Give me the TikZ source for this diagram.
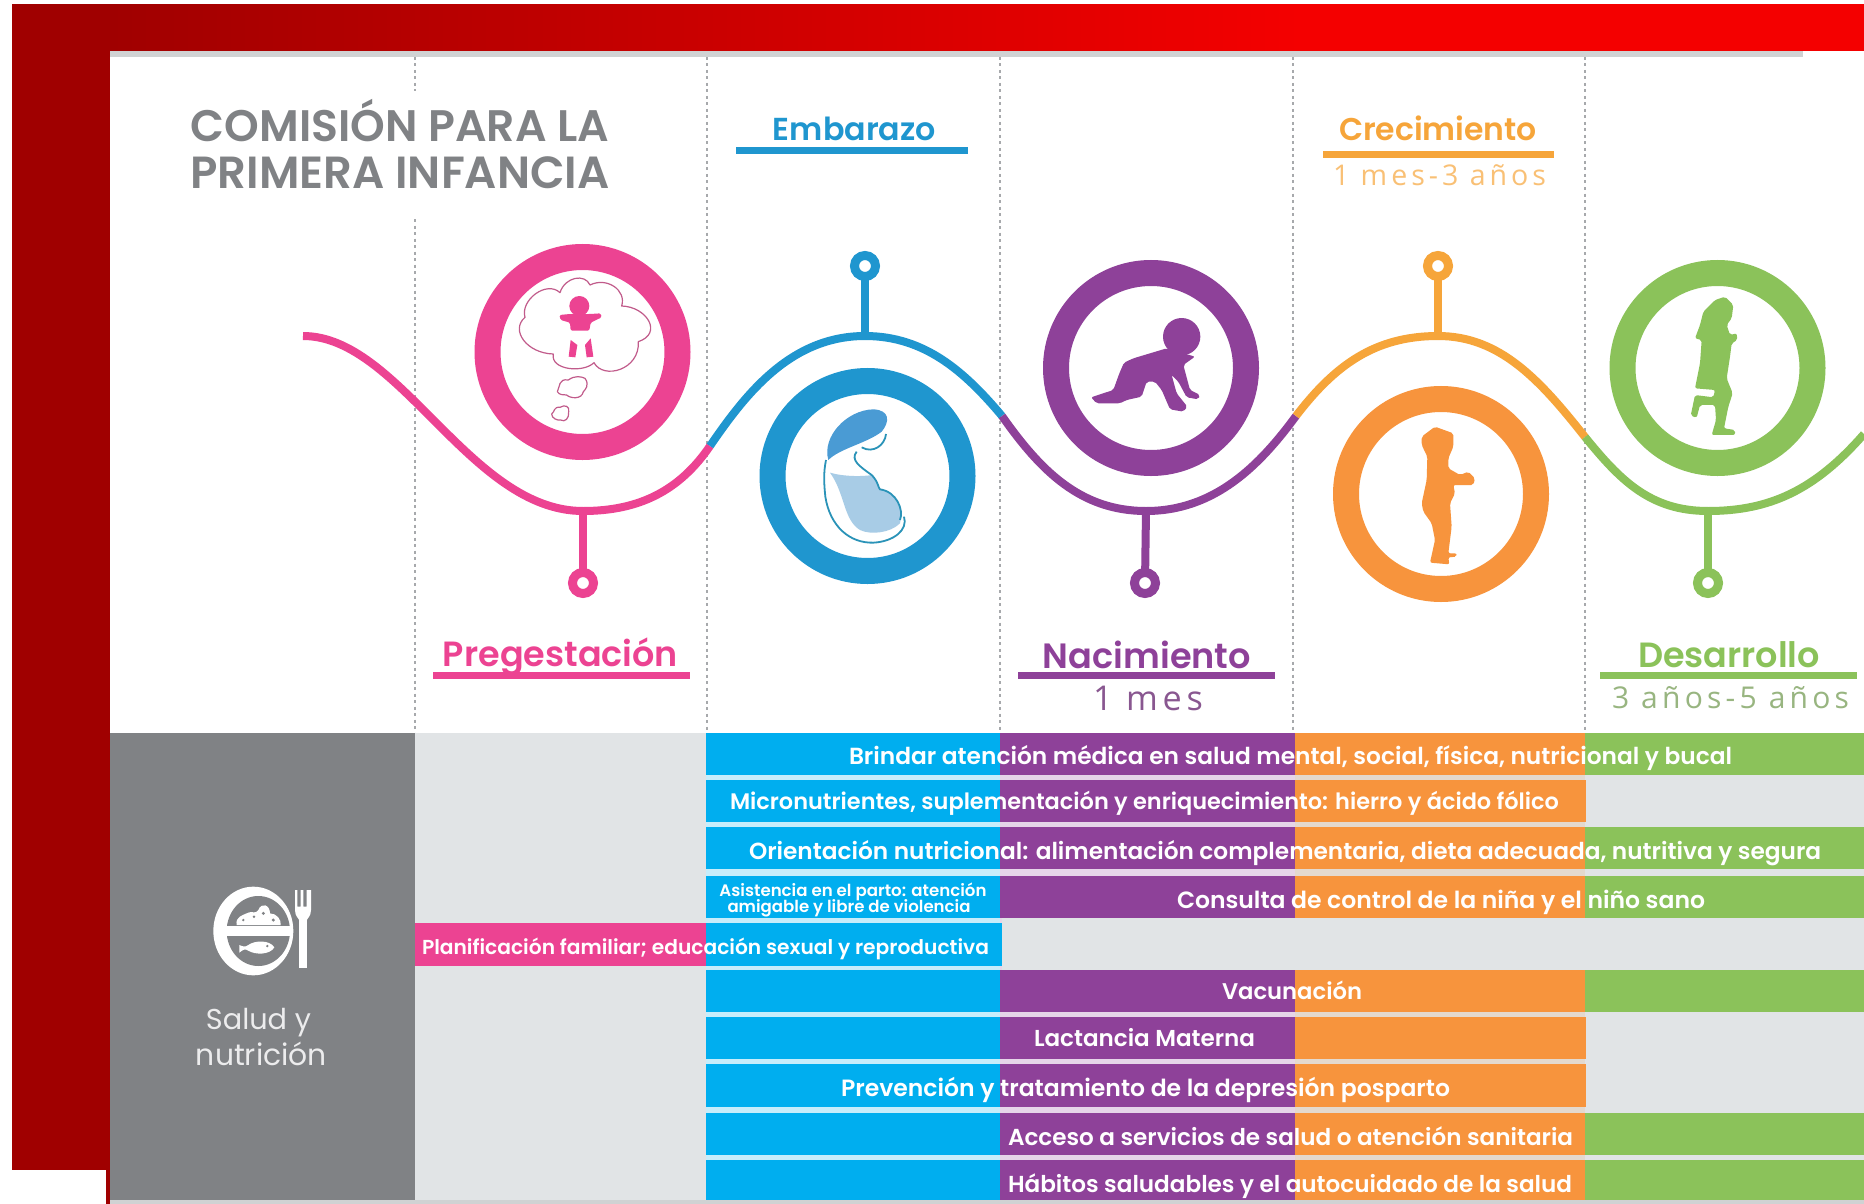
\documentclass[tikz,border=0pt]{standalone}
\usepackage{fontspec}
\setmainfont{Poppins}[BoldFont={Poppins SemiBold}]
\newfontfamily\spacedfont{Open Sans}[LetterSpace=14]
\definecolor{frameR}{HTML}{A00000}
\definecolor{frameB}{HTML}{F40000}
\definecolor{shadowG}{HTML}{D0D2D3}
\definecolor{dashG}{HTML}{A7A9AC}
\definecolor{panelG}{HTML}{808285}
\definecolor{cellG}{HTML}{E1E4E6}
\definecolor{pinkC}{HTML}{EC4392}
\definecolor{blueC}{HTML}{00AEEF}
\definecolor{blueW}{HTML}{1F96CF}
\definecolor{blueHair}{HTML}{4A9BD4}
\definecolor{blueBody}{HTML}{A8CCE6}
\definecolor{blueLine}{HTML}{2A93B8}
\definecolor{purpleC}{HTML}{8E4199}
\definecolor{orangeC}{HTML}{F7943D}
\definecolor{orangeW}{HTML}{F6A53A}
\definecolor{greenC}{HTML}{8BC25A}
\newcommand{\fitw}[2]{\resizebox{#1pt}{!}{#2}}
\tikzset{
  every node/.style={inner sep=0pt,outer sep=0pt},
  wave/.style={line width=8pt,line cap=butt},
  bigring/.style={circle,draw,fill=white,line width=26pt,minimum size=190pt},
  pinring/.style={circle,draw,fill=white,line width=9pt,minimum size=21pt},
  stem/.style={line width=8pt},
  guide/.style={draw=dashG,line width=1.2pt,dash pattern=on 3pt off 3.5pt},
  bar/.style={line width=7pt},
  rowtext/.style={text=white,font=\bfseries,anchor=west},
  zoomed/.style={x=0.33333pt,y=-0.33333pt},
}
\begin{document}
\begin{tikzpicture}[x=1pt,y=-1pt]
\useasboundingbox (0,0) rectangle (1864,1204);
\fill[white] (0,0) rectangle (1864,1204);
% frame
\fill[frameR] (12,4) rectangle (110,1170);
\fill[frameR] (106,1170) rectangle (110,1204);
\shade[left color=frameR,right color=frameB] (110,4) rectangle (1300,51);
\fill[frameB] (1300,4) rectangle (1864,51);
\fill[white] (0,0) rectangle (1864,4);
\fill[shadowG] (110,51) rectangle (1803,57);
% guides
\draw[guide] (415,57) -- (415,91);
\draw[guide] (415,219) -- (415,733);
\foreach \gx in {707,1000,1293,1585} {\draw[guide] (\gx,57) -- (\gx,733);}
% table background
\fill[panelG] (110,733) rectangle (415,1200);
\fill[cellG] (415,733) rectangle (1864,1200);
\fill[shadowG] (110,1200) rectangle (1864,1204);
\fill[blueC!22!white] (706,775) rectangle (1000,1160);
\fill[purpleC!22!white] (1000,775) rectangle (1295,1160);
\fill[orangeC!14!cellG] (1295,775) rectangle (1585,1160);
\fill[cellG] (1002,918) rectangle (1864,970);
\fill[cellG] (1585,775) rectangle (1864,1160);
% rows: pink/blue/purple/orange/green cells
\foreach \ya/\yb in {733/775,780/822,827/869,876/918,970/1012,1017/1059,1064/1107,1113/1155,1160/1200}{
  \fill[blueC] (706,\ya) rectangle (1000,\yb);
  \fill[purpleC] (1000,\ya) rectangle (1295,\yb);
  \fill[orangeC] (1295,\ya) rectangle (1586,\yb);
}
\foreach \ya/\yb in {733/775,827/869,876/918,970/1012,1113/1155,1160/1200}{
  \fill[greenC] (1585,\ya) rectangle (1864,\yb);
}
\fill[pinkC] (415,923) rectangle (706,966);
\fill[blueC] (706,923) rectangle (1002,966);
% row texts
\node[rowtext] (r1) at (849,758) {\fitw{883}{Brindar atención médica en salud mental, social, física, nutricional y bucal}};
\node[rowtext] (r2) at (730,803) {\fitw{829}{Micronutrientes, suplementación y enriquecimiento: hierro y ácido fólico}};
\node[rowtext] (r3) at (749,853) {\fitw{1072}{Orientación nutricional: alimentación complementaria, dieta adecuada, nutritiva y segura}};
\node[rowtext,anchor=center] (r4a) at (853,892) {\fitw{267}{Asistencia en el parto: atención}};
\node[rowtext,anchor=center] (r4b) at (849,908) {\fitw{243}{amigable y libre de violencia}};
\node[rowtext] (r4) at (1177,902) {\fitw{528}{Consulta de control de la niña y el niño sano}};
\node[rowtext] (r5) at (422,949) {\fitw{567}{Planificación familiar; educación sexual y reproductiva}};
\node[rowtext] (r6) at (1222,990) {\fitw{140}{Vacunación}};
\node[rowtext] (r7) at (1034,1038) {\fitw{221}{Lactancia Materna}};
\node[rowtext] (r8) at (841,1090) {\fitw{609}{Prevención y tratamiento de la depresión posparto}};
\node[rowtext] (r9) at (1008,1136) {\fitw{565}{Acceso a servicios de salud o atención sanitaria}};
\node[rowtext] (r10) at (1008,1186) {\fitw{564}{Hábitos saludables y el autocuidado de la salud}};
% panel
\node[text=white!85!panelG] (salud) at (258.5,1023) {\fitw{105}{Salud y}};
\node[text=white!85!panelG] (nutri) at (261.5,1054) {\fitw{131}{nutrición}};
% plate icon
\begin{scope}[shift={(180,860)},zoomed]
  \fill[white] (220,213) ellipse [x radius=120,y radius=133];
  \fill[panelG] (235,213) ellipse [x radius=95,y radius=105];
  \fill[white] (125,198) rectangle (335,228);
  \fill[white] (170,195) .. controls (165,170) and (190,165) .. (200,160) .. controls (220,150) and (225,165) .. (235,150) .. controls (245,125) and (270,135) .. (270,160) .. controls (290,160) and (305,180) .. (302,195) -- cycle;
  \fill[panelG] (190,180) circle (4) (222,170) circle (4) (250,160) circle (5) (280,180) circle (5);
  \fill[white] (178,255) .. controls (190,260) and (195,262) .. (205,255) .. controls (225,240) and (270,240) .. (283,262) .. controls (270,285) and (225,285) .. (205,272) .. controls (195,266) and (190,268) .. (178,278) -- cycle;
  \fill[panelG] (262,258) circle (4);
  \fill[white] (357,170) rectangle (381,325);
  \fill[white] (345,90) -- (352,90) -- (352,140) -- (362,140) -- (362,90) -- (370,90) -- (370,140) -- (380,140) -- (380,90) -- (393,90) -- (393,150) .. controls (393,170) and (381,175) .. (381,180) -- (357,180) .. controls (357,175) and (345,170) .. (345,150) -- cycle;
\end{scope}
% headings
\node[text=panelG,font=\bfseries] (title1) at (400,121) {\fitw{418}{COMISIÓN PARA LA}};
\node[text=panelG,font=\bfseries] (title2) at (400,173) {\fitw{419}{PRIMERA INFANCIA}};
\node[text=blueW] (hemb) at (854.5,129) {\fitw{163}{\textbf{Embarazo}}};
\draw[blueW,bar] (736,151) -- (968,151);
\node[text=orangeW] (hcre) at (1438,128) {\fitw{198}{\textbf{Crecimiento}}};
\draw[orangeW,bar] (1323,155) -- (1554,155);
\node[text=orangeW!70!white] (scre) at (1439.5,175) {\fitw{213}{\spacedfont 1 mes-3 años}};
\node[text=pinkC] (hpre) at (560.5,656.5) {\fitw{235}{\textbf{Pregestación}}};
\draw[pinkC,bar] (433,675) -- (690,675);
\node[text=purpleC] (hnac) at (1147,655) {\fitw{208}{\textbf{Nacimiento}}};
\draw[purpleC,bar] (1018,675) -- (1275,675);
\node[text=purpleC!65!gray] (snac) at (1148,698) {\fitw{110}{\spacedfont 1 mes}};
\node[text=greenC] (hdes) at (1729,655) {\fitw{182}{\textbf{Desarrollo}}};
\draw[greenC,bar] (1600,675) -- (1857,675);
\node[text=greenC!60!gray!85!white] (sdes) at (1730.5,698) {\fitw{237}{\spacedfont 3 años-5 años}};
% wave coordinates
\coordinate (w0) at (303,336);
\coordinate (tPink) at (583,511);
\coordinate (j1) at (710,446);
\coordinate (pBlue) at (865,336);
\coordinate (j2) at (1002,416);
\coordinate (tPurple) at (1146,511);
\coordinate (j3) at (1296,416);
\coordinate (pOrange) at (1438,336);
\coordinate (j4) at (1585,437);
\coordinate (tGreen) at (1708,511);
\coordinate (w9) at (1864,434);
% pins
\node[pinring,draw=pinkC] (pinA) at (583,583) {};
\node[pinring,draw=blueW] (pinB) at (865,266) {};
\node[pinring,draw=purpleC] (pinC) at (1145,583) {};
\node[pinring,draw=orangeW] (pinD) at (1438,266) {};
\node[pinring,draw=greenC] (pinE) at (1708,583) {};
\draw[stem,pinkC] (tPink) -- (pinA);
\draw[stem,blueW] (pBlue) -- (pinB);
\draw[stem,purpleC] (tPurple) -- (pinC);
\draw[stem,orangeW] (pOrange) -- (pinD);
\draw[stem,greenC] (tGreen) -- (pinE);
% wave
\draw[wave,pinkC] (w0) .. controls (400,336) and (470,511) .. (tPink) .. controls (640,511) and (680,490) .. (j1);
\draw[wave,blueW] (j1) .. controls (745,395) and (790,336) .. (pBlue) .. controls (925,336) and (965,372) .. (j2);
\draw[wave,purpleC] (j2) .. controls (1040,470) and (1080,511) .. (tPurple) .. controls (1215,511) and (1260,465) .. (j3);
\draw[wave,orangeW] (j3) .. controls (1335,365) and (1375,336) .. (pOrange) .. controls (1500,336) and (1540,380) .. (j4);
\draw[wave,greenC] (j4) .. controls (1620,480) and (1650,511) .. (tGreen) .. controls (1770,511) and (1815,490) .. (w9);
% big rings
\node[bigring,draw=pinkC] (ringA) at (582.5,352) {};
\node[bigring,draw=blueW] (ringB) at (867.5,476) {};
\node[bigring,draw=purpleC] (ringC) at (1151,368) {};
\node[bigring,draw=orangeC] (ringD) at (1441,494) {};
\node[bigring,draw=greenC] (ringE) at (1717.5,368) {};
% pink icon
\begin{scope}[shift={(470,230)},zoomed]
  \draw[pinkC!60!gray,line width=1.2pt,line join=round] (250,372) .. controls (170,370) and (120,300) .. (165,262) .. controls (150,210) and (230,150) .. (270,188) .. controls (285,140) and (345,130) .. (360,165) .. controls (410,140) and (470,180) .. (455,228) .. controls (530,230) and (580,310) .. (505,335) .. controls (510,420) and (400,450) .. (372,398) .. controls (340,430) and (240,420) .. (250,372) -- cycle;
  \draw[pinkC!60!gray,line width=1.2pt,line join=round] (262,485) .. controls (270,470) and (265,445) .. (295,450) .. controls (315,435) and (335,440) .. (345,445) .. controls (360,465) and (345,480) .. (340,485) .. controls (335,510) and (300,505) .. (290,495) .. controls (280,495) and (268,495) .. (262,485) -- cycle;
  \draw[pinkC!60!gray,line width=1.2pt,line join=round] (245,552) .. controls (255,545) and (250,530) .. (270,532) .. controls (285,522) and (300,530) .. (296,545) .. controls (298,565) and (285,578) .. (272,570) .. controls (262,572) and (245,565) .. (245,552) -- cycle;
  \fill[pinkC] (328,228) circle (30);
  \fill[pinkC,rounded corners=1.5pt] (268,255) -- (300,252) -- (360,252) -- (392,250) -- (395,262) -- (362,278) -- (358,302) -- (302,302) -- (300,278) -- (272,270) -- cycle;
  \fill[pinkC] (302,330) -- (322,345) -- (316,382) -- (296,380) -- cycle;
  \fill[pinkC] (345,345) -- (362,325) -- (370,380) -- (350,382) -- cycle;
\end{scope}
% blue icon
\begin{scope}[shift={(750,360)},zoomed]
  \fill[blueBody] (240,338) .. controls (280,350) and (340,350) .. (365,345) .. controls (385,365) and (385,385) .. (390,388) .. controls (440,395) and (462,450) .. (450,490) .. controls (420,520) and (360,525) .. (330,510) .. controls (280,480) and (285,400) .. (240,338) -- cycle;
  \fill[blueHair] (235,300) .. controls (215,230) and (290,150) .. (370,148) .. controls (420,150) and (420,185) .. (395,215) .. controls (350,250) and (270,265) .. (235,300) -- cycle;
  \draw[blueLine,line width=1.8pt] (408,222) .. controls (405,255) and (370,282) .. (335,262);
  \draw[blueLine,line width=1.8pt] (320,275) .. controls (300,300) and (330,320) .. (365,345) .. controls (385,365) and (385,385) .. (390,388) .. controls (440,395) and (462,450) .. (450,480);
  \draw[blueLine,line width=1.8pt] (228,300) .. controls (220,340) and (222,370) .. (226,410) .. controls (240,500) and (300,550) .. (370,548) .. controls (430,545) and (475,510) .. (462,470);
\end{scope}
% crawling baby
\begin{scope}[shift={(1030,250)},zoomed]
  \fill[purpleC] (455,260) circle (56);
  \fill[purpleC,rounded corners=2pt] (183,442) -- (250,420) -- (268,370) -- (282,338) -- (310,325) -- (410,295) -- (495,320) -- (460,345) -- (480,420) -- (510,435) -- (505,448) -- (470,442) -- (445,395) -- (425,375) -- (440,430) -- (472,470) -- (460,485) -- (420,478) -- (395,420) -- (375,395) -- (350,395) -- (335,440) -- (290,450) -- (270,460) -- (200,460) -- cycle;
\end{scope}
% standing child
\begin{scope}[shift={(1320,380)},zoomed]
  \fill[orangeC,rounded corners=2pt] (305,170) -- (345,140) -- (400,160) -- (400,200) -- (385,235) -- (385,265) -- (420,285) -- (445,275) -- (465,295) -- (460,315) -- (400,315) -- (405,340) -- (390,370) -- (395,440) -- (385,520) -- (410,520) -- (410,530) -- (385,532) -- (388,553) -- (330,548) -- (345,480) -- (335,430) -- (310,395) -- (305,370) -- (320,300) -- (322,230) -- (305,195) -- cycle;
\end{scope}
% walking girl
\begin{scope}[shift={(1600,250)},zoomed]
  \fill[greenC,rounded corners=2pt] (345,150) -- (375,140) -- (400,165) -- (395,205) -- (380,225) -- (390,255) -- (410,250) -- (412,270) -- (395,280) -- (390,320) -- (380,385) -- (398,430) -- (385,470) -- (372,535) -- (405,540) -- (405,555) -- (335,555) -- (348,510) -- (345,465) -- (300,465) -- (290,503) -- (272,497) -- (285,435) -- (340,442) -- (345,420) -- (285,415) -- (300,340) -- (305,270) -- (285,265) -- (300,225) -- (310,185) -- cycle;
\end{scope}
\end{tikzpicture}
\end{document}
